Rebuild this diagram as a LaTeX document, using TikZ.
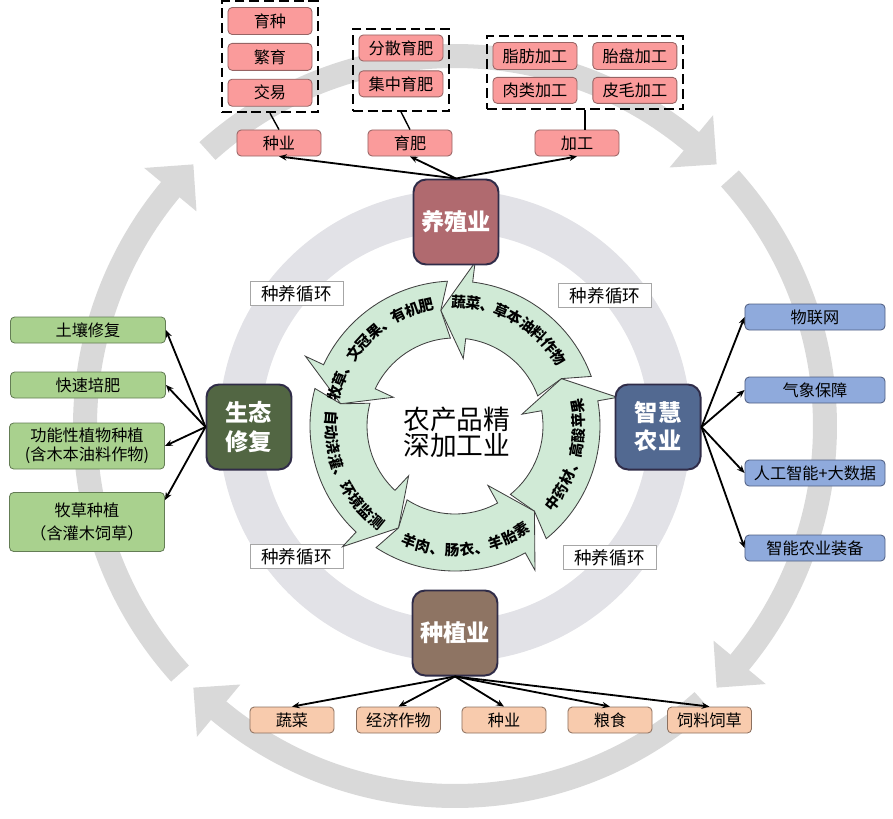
\documentclass[tikz,border=0pt]{standalone}
\usepackage{fontspec}
\setmainfont{Noto Sans CJK SC}
\usepackage{tikz}
\usetikzlibrary{arrows.meta,positioning,calc,fit,decorations.text}
\usepackage{xcolor}
\definecolor{RingOut}{RGB}{217,217,217}
\definecolor{RingIn}{RGB}{226,226,231}
\definecolor{Leaf}{RGB}{208,234,214}
\definecolor{LeafLine}{RGB}{64,64,64}
\definecolor{Rose}{RGB}{176,106,111}
\definecolor{Slate}{RGB}{82,105,145}
\definecolor{Moss}{RGB}{82,102,67}
\definecolor{Umber}{RGB}{142,116,99}
\definecolor{HubLine}{RGB}{48,44,72}
\definecolor{Pink}{RGB}{250,155,155}
\definecolor{PinkLine}{RGB}{150,100,100}
\definecolor{Peach}{RGB}{248,203,173}
\definecolor{PeachLine}{RGB}{140,112,95}
\definecolor{Sage}{RGB}{169,209,142}
\definecolor{SageLine}{RGB}{100,125,85}
\definecolor{Sky}{RGB}{143,170,220}
\definecolor{SkyLine}{RGB}{80,95,130}
\newcommand{\cycfont}{\fontsize{10.5}{12}\selectfont\bfseries}
\tikzset{
  hub/.style={rectangle,rounded corners=9pt,draw=HubLine,line width=1.4pt,
              minimum width=2.125cm,minimum height=2.125cm,text=white,
              font=\fontsize{16.5}{20}\selectfont\bfseries,align=center,inner sep=1pt},
  leaf/.style={rectangle,rounded corners=3pt,line width=0.6pt,
               font=\fontsize{11.5}{13.5}\selectfont,minimum height=0.65cm,
               inner sep=1pt,align=center},
  pbox/.style={leaf,fill=Pink,draw=PinkLine,minimum width=2.1cm},
  obox/.style={leaf,fill=Peach,draw=PeachLine,minimum width=2.1cm},
  gbox/.style={leaf,fill=Sage,draw=SageLine,minimum width=3.875cm},
  bbox/.style={leaf,fill=Sky,draw=SkyLine,minimum width=3.5cm},
  cyc/.style={rectangle,draw=gray!70,fill=white,line width=0.6pt,
              font=\fontsize{12.5}{14}\selectfont,minimum width=2.325cm,
              minimum height=0.6cm,inner sep=1pt},
  grp/.style={draw,dash pattern=on 7pt off 3.5pt,line width=1.4pt,inner sep=4pt},
  tedge/.style={-{Stealth[length=5.5pt,width=4.5pt]},line width=1.3pt},
  garrow/.style={fill=Leaf,draw=LeafLine,line width=0.6pt},
}

\begin{document}
\begin{tikzpicture}[x=0.025cm,y=0.025cm]
  \useasboundingbox (-455,-392) rectangle (438,426);
  % outer ring of four arrows
  \fill[RingOut] (132:358) arc[start angle=132,end angle=50.3,radius=358] -- (50.3:336) -- (45:370)
    -- (50.3:404) -- (50.3:382) arc[start angle=50.3,end angle=132,radius=382] -- cycle;
  \fill[RingOut] (42:358) arc[start angle=42,end angle=-39.7,radius=358] -- (-39.7:336) -- (-45:370)
    -- (-39.7:404) -- (-39.7:382) arc[start angle=-39.7,end angle=42,radius=382] -- cycle;
  \fill[RingOut] (-48:358) arc[start angle=-48,end angle=-129.7,radius=358] -- (-129.7:336) -- (-135:370)
    -- (-129.7:404) -- (-129.7:382) arc[start angle=-129.7,end angle=-48,radius=382] -- cycle;
  \fill[RingOut] (-138:358) arc[start angle=-138,end angle=-219.7,radius=358] -- (-219.7:336) -- (-225:370)
    -- (-219.7:404) -- (-219.7:382) arc[start angle=-219.7,end angle=-138,radius=382] -- cycle;
  % inner ring
  \draw[RingIn,line width=1.05cm] (0,0) circle[radius=215];
  \node[cyc] (c1) at (-158.5,132.5) {种养循环};
  \node[cyc] (c2) at (150,130.5) {种养循环};
  \node[cyc] (c3) at (-158.5,-130.5) {种养循环};
  \node[cyc] (c4) at (154.5,-131.5) {种养循环};
  % green cycle
  \draw[garrow] (-51:145) arc[start angle=-51,end angle=10,radius=145] -- (10:165) -- (24:116.5)
    -- (10:68) -- (10:88) arc[start angle=10,end angle=-51,radius=88] -- (-47:116.5) -- cycle;
  \draw[garrow] (20:145) arc[start angle=20,end angle=83,radius=145] -- (83:165) -- (97:116.5)
    -- (83:68) -- (83:88) arc[start angle=83,end angle=20,radius=88] -- (24:116.5) -- cycle;
  \draw[garrow] (93:145) arc[start angle=93,end angle=155,radius=145] -- (155:165) -- (169:116.5)
    -- (155:68) -- (155:88) arc[start angle=155,end angle=93,radius=88] -- (97:116.5) -- cycle;
  \draw[garrow] (165:145) arc[start angle=165,end angle=227,radius=145] -- (227:165) -- (241:116.5)
    -- (227:68) -- (227:88) arc[start angle=227,end angle=165,radius=88] -- (169:116.5) -- cycle;
  \draw[garrow] (237:145) arc[start angle=237,end angle=299,radius=145] -- (299:165) -- (313:116.5)
    -- (299:68) -- (299:88) arc[start angle=299,end angle=237,radius=88] -- (241:116.5) -- cycle;
  \path[decorate,decoration={text along path,text align=center,raise=-4pt,
    text={|\cycfont|蔬菜、草本油料作物}}] (101:124) arc[start angle=101,end angle=21,radius=124];
  \path[decorate,decoration={text along path,text align=center,raise=-4pt,
    text={|\cycfont|牧草、文冠果、有机肥}}] (176:124) arc[start angle=176,end angle=92,radius=124];
  \path[decorate,decoration={text along path,text align=center,raise=-4pt,
    text={|\cycfont|自动浇灌、环境监测}}] (163.5:124) arc[start angle=163.5,end angle=243.5,radius=124];
  \path[decorate,decoration={text along path,text align=center,raise=-4pt,
    text={|\cycfont|羊肉、肠衣、羊胎素}}] (235.5:124) arc[start angle=235.5,end angle=315.5,radius=124];
  \path[decorate,decoration={text along path,text align=center,raise=-4pt,
    text={|\cycfont|中药材、高酸苹果}}] (305.5:124) arc[start angle=305.5,end angle=385.5,radius=124];
  \node[align=center,font=\fontsize{19}{18.5}\selectfont] (core) at (2,-6) {农产品精\\深加工业};
  % hubs
  \node[hub,fill=Rose] (yz) at (1,204) {养殖业};
  \node[hub,fill=Umber] (zz) at (0,-207) {种植业};
  \node[hub,fill=Slate] (zh) at (203,-1) {智慧\\农业};
  \node[hub,fill=Moss] (st) at (-206,-1) {生态\\修复};
  % top
  \node[pbox,minimum height=0.675cm] (ys) at (-185,405) {育种};
  \node[pbox,minimum height=0.675cm,below=0.2cm of ys] (fy) {繁育};
  \node[pbox,minimum height=0.675cm,below=0.2cm of fy] (jy) {交易};
  \node[grp,fit=(ys)(jy)] (grpA) {};
  \node[pbox] (fs) at (-54,378) {分散育肥};
  \node[pbox,below=0.225cm of fs] (jz) {集中育肥};
  \node[grp,fit={(fs) (jz) ($(jz.south)+(0,-8)$)}] (grpB) {};
  \node[pbox,minimum height=0.675cm] (zf) at (80,370) {脂肪加工};
  \node[pbox,minimum height=0.675cm,right=0.375cm of zf] (tp) {胎盘加工};
  \node[pbox,below=0.175cm of zf] (rl) {肉类加工};
  \node[pbox,below=0.175cm of tp] (pm) {皮毛加工};
  \node[grp,fit=(zf)(pm)] (grpC) {};
  \node[pbox] (zy) at (-176,283) {种业};
  \node[pbox] (yf) at (-45,283) {育肥};
  \node[pbox] (jg) at (122,283) {加工};
  \draw[line width=1pt] (grpA.south) -- (zy.north);
  \draw[line width=1pt] (grpB.south) -- (yf.north);
  \draw[line width=1pt] (grpC.south) -- (grpC.south |- jg.north);
  \draw[tedge] (yz.north) -- (zy.south);
  \draw[tedge] (yz.north) -- (yf.south);
  \draw[tedge] (yz.north) -- (jg.south);
  % left
  \node[gbox] (tr) at (-367,96) {土壤修复};
  \node[gbox] (kp) at (-367,41) {快速培肥};
  \node[gbox,minimum height=1.15cm] (gn) at (-368,-20) {功能性植物种植\\(含木本油料作物)};
  \node[gbox,minimum height=1.475cm] (mc) at (-368,-96) {牧草种植\\[3pt]（含灌木饲草）};
  \draw[tedge] (st.west) -- (tr.east);
  \draw[tedge] (st.west) -- (kp.east);
  \draw[tedge] (st.west) -- (gn.east);
  \draw[tedge] (st.west) -- ($(mc.north east)+(0,-8)$);
  % right
  \node[bbox] (wl) at (360,109) {物联网};
  \node[bbox] (qx) at (360,36) {气象保障};
  \node[bbox] (rg) at (360,-47) {人工智能+大数据};
  \node[bbox] (zn) at (360,-122) {智能农业装备};
  \draw[tedge] (zh.east) -- (wl.west);
  \draw[tedge] (zh.east) -- (qx.west);
  \draw[tedge] (zh.east) -- (rg.west);
  \draw[tedge] (zh.east) -- (zn.west);
  % bottom
  \node[obox] (sc) at (-163,-294) {蔬菜};
  \node[obox] (jj) at (-56.5,-294) {经济作物};
  \node[obox] (zb) at (49,-294) {种业};
  \node[obox] (ls) at (155,-294) {粮食};
  \node[obox] (sl) at (254.5,-294) {饲料饲草};
  \draw[tedge] (zz.south) -- (sc.north);
  \draw[tedge] (zz.south) -- (jj.north);
  \draw[tedge] (zz.south) -- (zb.north);
  \draw[tedge] (zz.south) -- (ls.north);
  \draw[tedge] (zz.south) -- (sl.north);
\end{tikzpicture}
\end{document}
